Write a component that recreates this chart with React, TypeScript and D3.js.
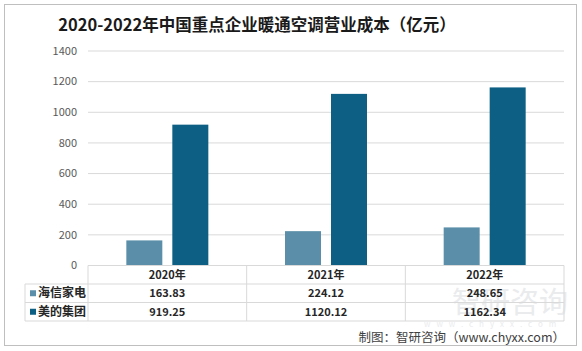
import * as d3 from 'd3';
import React, { useRef, useEffect } from 'react';

const years = ['2020年', '2021年', '2022年'];
const seriesNames = ['海信家电', '美的集团'];
const hisense = [163.83, 224.12, 248.65];
const midea = [919.25, 1120.12, 1162.34];
const yTicks = [0, 200, 400, 600, 800, 1000, 1200, 1400];
const colors = ['#5b8fa9', '#0d5f84'];

const FONT = '"Noto Sans CJK SC", "Noto Sans", sans-serif';

function App() {
    const ref = useRef<SVGSVGElement>(null);

    useEffect(() => {
        const width = 582, height = 351;
        const svg = d3.select(ref.current)
            .attr('width', width)
            .attr('height', height);
        svg.selectAll('*').remove();

        var margin = { top: 51, left: 88, right: 18, bottom: 85 };
        var plotBottom = 265.5;

        // outer frame
        svg.append('rect')
            .attr('x', 4.5).attr('y', 4.5)
            .attr('width', 572).attr('height', 341)
            .attr('fill', 'white')
            .attr('stroke', '#bfbfbf');

        // watermark (drawn first so it sits behind the table)
        svg.append('text')
            .attr('x', 452).attr('y', 313)
            .style('font-family', FONT)
            .style('font-size', '29px')
            .style('fill', '#d5d8dc')
            .style('opacity', 0.5)
            .text('智研咨询');
        svg.append('text')
            .attr('x', 424).attr('y', 327)
            .style('font-family', FONT)
            .style('font-size', '8px')
            .style('letter-spacing', '6px')
            .style('fill', '#d5d8dc')
            .style('opacity', 0.5)
            .text('www.chyxx.com');

        svg.append('text')
            .attr('x', 257).attr('y', 31)
            .attr('text-anchor', 'middle')
            .style('font-family', FONT)
            .style('font-weight', 'bold')
            .style('font-size', '16.5px')
            .style('fill', '#1a1a1a')
            .text('2020-2022年中国重点企业暖通空调营业成本（亿元）');

        var x = d3.scaleBand().domain(years).range([margin.left, width - margin.right]);
        var y = d3.scaleLinear().domain([0, 1400]).range([plotBottom, margin.top]);

        // gridlines
        svg.append('g').selectAll('line')
            .data(yTicks.slice(1))
            .enter().append('line')
            .attr('x1', margin.left).attr('x2', width - margin.right)
            .attr('y1', d => y(d)).attr('y2', d => y(d))
            .attr('stroke', '#d9d9d9');

        svg.append('g').selectAll('text')
            .data(yTicks)
            .enter().append('text')
            .attr('x', 77).attr('y', d => y(d))
            .attr('dy', '0.35em')
            .attr('text-anchor', 'end')
            .style('font-family', FONT)
            .style('font-size', '11px')
            .style('fill', '#595959')
            .text(d => d);

        // bars
        var barW = 36, gap = 10;
        [hisense, midea].forEach((vals, si) => {
            svg.append('g').selectAll('rect')
                .data(vals)
                .enter().append('rect')
                .attr('x', (d, i) => x(years[i])! + x.bandwidth() / 2 + (si === 0 ? -gap / 2 - barW : gap / 2))
                .attr('y', d => y(d))
                .attr('width', barW)
                .attr('height', d => plotBottom - y(d))
                .attr('fill', colors[si]);
        });

        // data table
        var rowH = 18.5;
        var rows = [plotBottom, plotBottom + rowH, plotBottom + 2 * rowH, plotBottom + 3 * rowH];
        var legendLeft = 25;
        var tbl = svg.append('g').attr('stroke', '#d9d9d9').attr('fill', 'none');
        tbl.append('line').attr('x1', margin.left).attr('x2', width - margin.right).attr('y1', rows[0]).attr('y2', rows[0]);
        rows.slice(1).forEach(r => {
            tbl.append('line').attr('x1', legendLeft).attr('x2', width - margin.right).attr('y1', r).attr('y2', r);
        });
        var cols = years.map(c => x(c)!).concat([width - margin.right]);
        cols.forEach(c => {
            tbl.append('line').attr('x1', c).attr('x2', c).attr('y1', rows[0]).attr('y2', rows[3]);
        });
        tbl.append('line').attr('x1', legendLeft).attr('x2', legendLeft).attr('y1', rows[1]).attr('y2', rows[3]);

        svg.append('g').selectAll('text')
            .data(years)
            .enter().append('text')
            .attr('x', d => x(d)! + x.bandwidth() / 2)
            .attr('y', rows[0] + rowH / 2)
            .attr('dy', '0.35em')
            .attr('text-anchor', 'middle')
            .style('font-family', FONT)
            .style('font-weight', 'bold')
            .style('font-size', '11px')
            .style('fill', '#262626')
            .text(d => d);

        [hisense, midea].forEach((vals, si) => {
            var cy = rows[si + 1] + rowH / 2;
            svg.append('rect')
                .attr('x', 30).attr('y', cy - 3)
                .attr('width', 6).attr('height', 6)
                .attr('fill', colors[si]);
            svg.append('text')
                .attr('x', 38).attr('y', cy)
                .attr('dy', '0.35em')
                .style('font-family', FONT)
                .style('font-weight', 'bold')
                .style('font-size', '12px')
                .style('fill', '#262626')
                .text(seriesNames[si]);
            svg.append('g').selectAll('text')
                .data(vals)
                .enter().append('text')
                .attr('x', (d, i) => x(years[i])! + x.bandwidth() / 2)
                .attr('y', cy)
                .attr('dy', '0.35em')
                .attr('text-anchor', 'middle')
                .style('font-family', FONT)
                .style('font-weight', 'bold')
                .style('font-size', '11px')
                .style('fill', '#262626')
                .text(d => d.toFixed(2));
        });

        svg.append('text')
            .attr('x', 565).attr('y', 338)
            .attr('dy', '0.35em')
            .attr('text-anchor', 'end')
            .style('font-family', FONT)
            .style('font-size', '12.5px')
            .style('fill', '#404040')
            .text('制图：智研咨询（www.chyxx.com）');
    }, []);

    return (
        <div className="chart">
            <svg ref={ref} style={{ position: 'absolute', left: 0, top: 0 }}>
            </svg>
        </div>
    );
}

export default App;
